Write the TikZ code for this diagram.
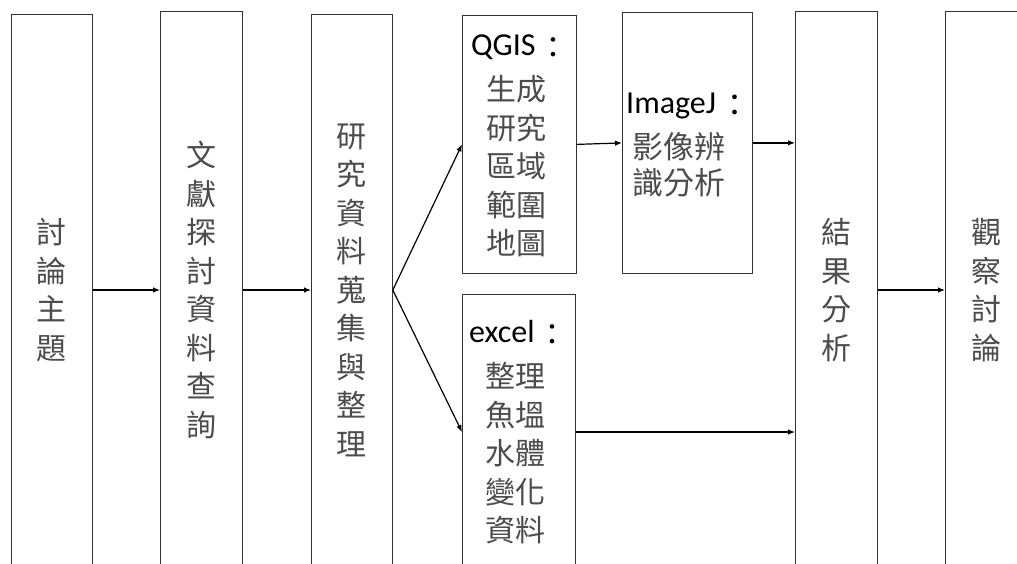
\documentclass[tikz,border=0pt]{standalone}
\usepackage{fontspec}
\setmainfont{Carlito}
\newfontfamily\cjk{Noto Sans CJK TC}
\newfontfamily\lat{Carlito}
\newcommand{\fwcolon}{\hspace{3pt}\raisebox{-3pt}{\color{black}：}}
\newcommand{\latword}[1]{{\lat\fontsize{32}{38}\selectfont\color{black}#1}}
\usetikzlibrary{arrows.meta}
\begin{document}
\begin{tikzpicture}[x=1pt,y=-1pt,
  box/.style={draw=black!80, line width=0.8pt, inner sep=0pt, anchor=north west},
  txt/.style={inner sep=0pt, align=center, text=black!70, font=\cjk\fontsize{30}{38.5}\selectfont},
  ltxt/.style={txt, align=left, anchor=west},
  arr/.style={draw=black, line width=1.2pt, -{Latex[length=7pt,width=5.5pt]}}]
\useasboundingbox (0,0) rectangle (1017,563);
\clip (0,0) rectangle (1017,563);
\fill[white] (0,0) rectangle (1017,563);
% boxes
\node[box, minimum width=81, minimum height=620] (b1) at (11,14) {};
\node[box, minimum width=82, minimum height=620] (b2) at (160,11) {};
\node[box, minimum width=81, minimum height=620] (b3) at (311,14) {};
\node[box, minimum width=114, minimum height=258] (qg) at (462,15) {};
\node[box, minimum width=130, minimum height=261] (ij) at (622,12) {};
\node[box, minimum width=113, minimum height=320] (ex) at (462,294) {};
\node[box, minimum width=82, minimum height=620] (rs) at (795,11) {};
\node[box, minimum width=82, minimum height=620] (ob) at (945,11) {};
% texts
\node[txt] (t1) at (51,290) {討\\論\\主\\題};
\node[txt] (t2) at (201,290) {文\\獻\\探\\討\\資\\料\\查\\詢};
\node[txt] (t3) at (351,290) {研\\究\\資\\料\\蒐\\集\\與\\整\\理};
\node[ltxt] (tq) at (471,146) {\latword{QGIS}\fwcolon\\[7pt]\hspace{15pt}生成\\\hspace{15pt}研究\\\hspace{15pt}區域\\\hspace{15pt}範圍\\\hspace{15pt}地圖};
\node[ltxt, font=\cjk\fontsize{31}{36}\selectfont] (tj) at (626,145) {\latword{ImageJ}\fwcolon\\[9pt]\hspace{6pt}影像辨\\\hspace{6pt}識分析};
\node[ltxt] (te) at (469,432) {\latword{excel}\fwcolon\\[7pt]\hspace{16pt}整理\\\hspace{16pt}魚塭\\\hspace{16pt}水體\\\hspace{16pt}變化\\\hspace{16pt}資料};
\node[txt] (tr) at (836,290) {結\\果\\分\\析};
\node[txt] (to) at (986,290) {觀\\察\\討\\論};
% connectors
\coordinate (fork) at (b3.east |- t3.center);
\draw[arr] (b1.east |- t1.center) -- (b2.west |- t1.center);
\draw[arr] (b2.east |- t1.center) -- (b3.west |- t1.center);
\draw[arr] (fork) -- (qg.west);
\draw[arr] (fork) -- (ex.west |- te.center);
\draw[arr] (qg.east) -- (ij.west);
\draw[arr] (ij.east) -- (rs.west |- ij.east);
\draw[arr] (ex.east |- te.center) -- (rs.west |- te.center);
\draw[arr] (rs.east |- tr.center) -- (ob.west |- tr.center);
\end{tikzpicture}
\end{document}
